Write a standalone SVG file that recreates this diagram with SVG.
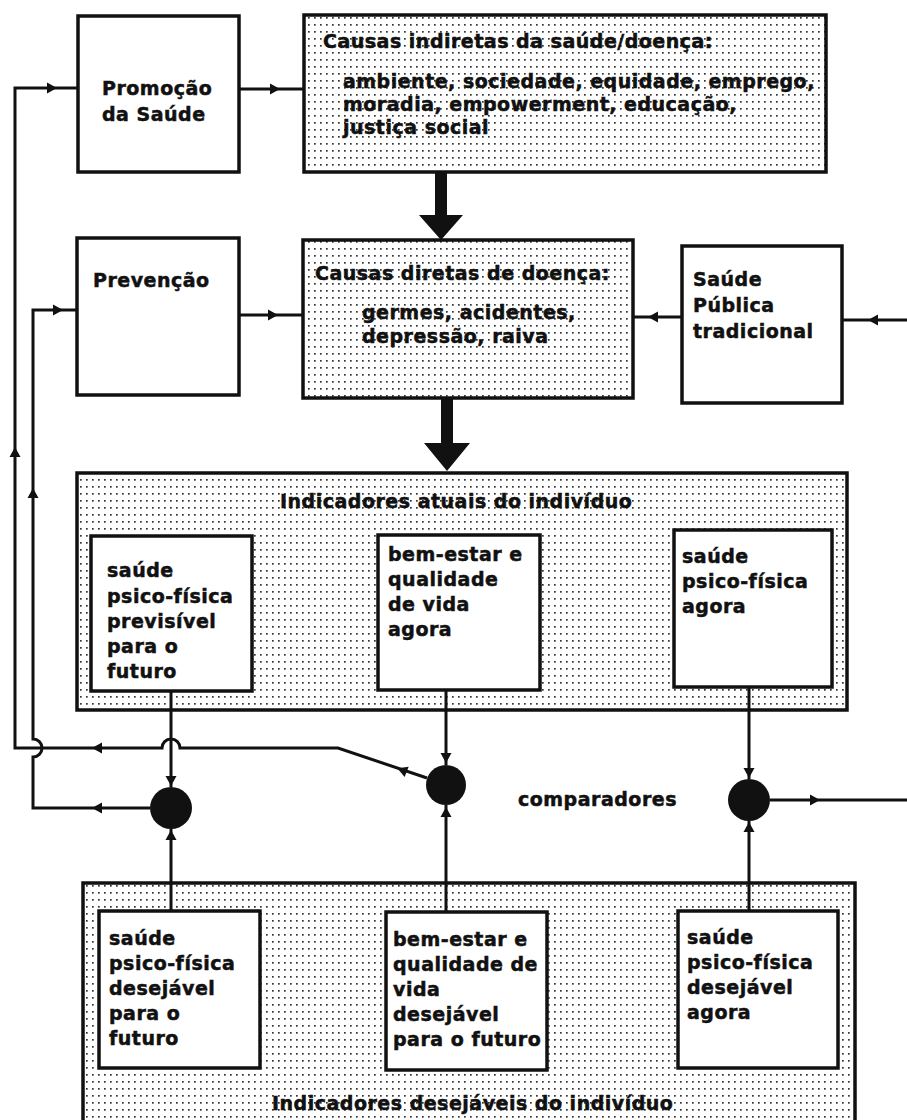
<svg xmlns="http://www.w3.org/2000/svg" xmlns:xlink="http://www.w3.org/1999/xlink" width="907" height="1120" viewBox="0 0 907 1120">
<style>
.box{fill:#fff;stroke:#111;stroke-width:3.5}
.dot{fill:url(#dots);stroke:#111;stroke-width:3.5}
.t{font-family:"DejaVu Sans","Liberation Sans",sans-serif;font-weight:bold;font-size:19px;letter-spacing:0.5px;fill:#111;stroke:#111;stroke-width:0.5}
.ln{fill:none;stroke:#111;stroke-width:3}
.ah{fill:#111}
.cmp{fill:#111}
.big{fill:#111}
</style>
<defs>
<pattern id="dots" width="6" height="7" patternUnits="userSpaceOnUse">
<rect width="6" height="7" fill="#fff"/>
<rect x="2" y="3" width="1.7" height="1.7" fill="#333"/>
</pattern>
<path id="ah" d="M-5,-5.5 L5,0 L-5,5.5 Z"/>
</defs>
<rect width="907" height="1120" fill="#fff"/>

<g id="promocao">
<rect class="box" x="78" y="16" width="161" height="156"/>
<text class="t" x="102" y="95">Promoção</text>
<text class="t" x="102" y="121">da Saúde</text>
</g>

<g id="causas-indiretas">
<rect class="dot" x="304" y="15" width="522" height="157"/>
<text class="t" x="323" y="48">Causas indiretas da saúde/doença:</text>
<text class="t" x="343" y="88">ambiente, sociedade, equidade, emprego,</text>
<text class="t" x="343" y="111">moradia, empowerment, educação,</text>
<text class="t" x="343" y="134">justiça social</text>
</g>

<g id="prevencao">
<rect class="box" x="77" y="238" width="162" height="157"/>
<text class="t" x="93" y="287">Prevenção</text>
</g>

<g id="causas-diretas">
<rect class="dot" x="303" y="240" width="330" height="158"/>
<text class="t" x="315" y="280">Causas diretas de doença:</text>
<text class="t" x="362" y="319">germes, acidentes,</text>
<text class="t" x="362" y="343">depressão, raiva</text>
</g>

<g id="saude-publica">
<rect class="box" x="682" y="246" width="160" height="157"/>
<text class="t" x="693" y="286">Saúde</text>
<text class="t" x="693" y="312">Pública</text>
<text class="t" x="693" y="338">tradicional</text>
</g>

<g id="indicadores-atuais">
<rect class="dot" x="77" y="473" width="770" height="237"/>
<text class="t" x="280" y="508">Indicadores atuais do indivíduo</text>
</g>

<g id="atual-futuro">
<rect class="box" x="91" y="536" width="161" height="155"/>
<text class="t" x="107" y="577">saúde</text>
<text class="t" x="107" y="603">psico-física</text>
<text class="t" x="107" y="628">previsível</text>
<text class="t" x="107" y="653">para o</text>
<text class="t" x="107" y="678">futuro</text>
</g>

<g id="atual-bemestar">
<rect class="box" x="378" y="535" width="162" height="155"/>
<text class="t" x="388" y="561">bem-estar e</text>
<text class="t" x="388" y="586">qualidade</text>
<text class="t" x="388" y="611">de vida</text>
<text class="t" x="388" y="636">agora</text>
</g>

<g id="atual-agora">
<rect class="box" x="674" y="530" width="158" height="157"/>
<text class="t" x="682" y="563">saúde</text>
<text class="t" x="682" y="588">psico-física</text>
<text class="t" x="682" y="613">agora</text>
</g>

<g id="indicadores-desejaveis">
<rect class="dot" x="83" y="883" width="772" height="245"/>
<text class="t" x="272" y="1110">Indicadores desejáveis do indivíduo</text>
</g>

<g id="desejavel-futuro">
<rect class="box" x="99" y="911" width="161" height="157"/>
<text class="t" x="109" y="945">saúde</text>
<text class="t" x="109" y="970">psico-física</text>
<text class="t" x="109" y="995">desejável</text>
<text class="t" x="109" y="1020">para o</text>
<text class="t" x="109" y="1045">futuro</text>
</g>

<g id="desejavel-bemestar">
<rect class="box" x="386" y="912" width="161" height="158"/>
<text class="t" x="393" y="946">bem-estar e</text>
<text class="t" x="393" y="971">qualidade de</text>
<text class="t" x="393" y="996">vida</text>
<text class="t" x="393" y="1021">desejável</text>
<text class="t" x="393" y="1046">para o futuro</text>
</g>

<g id="desejavel-agora">
<rect class="box" x="678" y="911" width="160" height="157"/>
<text class="t" x="687" y="944">saúde</text>
<text class="t" x="687" y="969">psico-física</text>
<text class="t" x="687" y="994">desejável</text>
<text class="t" x="687" y="1019">agora</text>
</g>

<g id="comparadores">
<circle class="cmp" cx="171" cy="808" r="21"/>
<circle class="cmp" cx="446" cy="785" r="20"/>
<circle class="cmp" cx="749" cy="800" r="21"/>
<text class="t" x="518" y="806">comparadores</text>
</g>

<g id="connectors">
<polygon class="big" points="435,172 447,172 447,215 463,215 441,240 419,215 435,215"/>
<polygon class="big" points="441,398 453,398 453,443 470,443 447,471 424,443 441,443"/>
<path class="ln" d="M427,778 L338,748 L180,748 A9,9 0 0 0 162,748 L15,748 L15,88 L78,88"/>
<path class="ln" d="M150,808 L33,808 L33,757 A9,9 0 0 0 33,739 L33,310 L77,310"/>
<path class="ln" d="M171,691 L171,787"/>
<path class="ln" d="M171,911 L171,829"/>
<path class="ln" d="M446,690 L446,765"/>
<path class="ln" d="M446,912 L446,805"/>
<path class="ln" d="M749,687 L749,779"/>
<path class="ln" d="M749,911 L749,821"/>
<path class="ln" d="M770,800 L907,800"/>
<path class="ln" d="M907,320 L842,320"/>
<path class="ln" d="M682,317 L633,317"/>
<path class="ln" d="M239,89 L304,89"/>
<path class="ln" d="M239,315 L303,315"/>
<use class="ah" xlink:href="#ah" transform="translate(52,88)"/>
<use class="ah" xlink:href="#ah" transform="translate(275,89)"/>
<use class="ah" xlink:href="#ah" transform="translate(58,310)"/>
<use class="ah" xlink:href="#ah" transform="translate(273,315)"/>
<use class="ah" xlink:href="#ah" transform="translate(653,317) rotate(180)"/>
<use class="ah" xlink:href="#ah" transform="translate(873,320) rotate(180)"/>
<use class="ah" xlink:href="#ah" transform="translate(15,452) rotate(-90)"/>
<use class="ah" xlink:href="#ah" transform="translate(33,493) rotate(-90)"/>
<use class="ah" xlink:href="#ah" transform="translate(97,748) rotate(180)"/>
<use class="ah" xlink:href="#ah" transform="translate(97,808) rotate(180)"/>
<use class="ah" xlink:href="#ah" transform="translate(402,770) rotate(201.7)"/>
<use class="ah" xlink:href="#ah" transform="translate(171,781) rotate(90)"/>
<use class="ah" xlink:href="#ah" transform="translate(171,835) rotate(-90)"/>
<use class="ah" xlink:href="#ah" transform="translate(446,758) rotate(90)"/>
<use class="ah" xlink:href="#ah" transform="translate(446,812) rotate(-90)"/>
<use class="ah" xlink:href="#ah" transform="translate(749,773) rotate(90)"/>
<use class="ah" xlink:href="#ah" transform="translate(749,827) rotate(-90)"/>
<use class="ah" xlink:href="#ah" transform="translate(815,800)"/>
</g>
</svg>
